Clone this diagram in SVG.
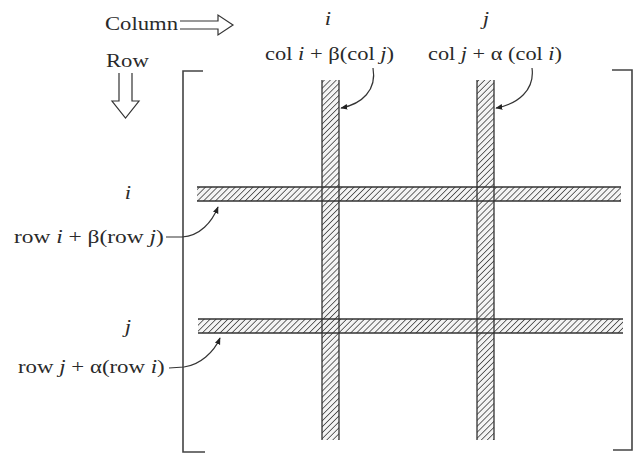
<svg xmlns="http://www.w3.org/2000/svg" width="637" height="454" viewBox="0 0 637 454">
<style>
  text { font-family: "Liberation Serif", "Times New Roman", serif; font-size: 18px; fill: #2a2a2a; }
  .it { font-style: italic; }
  .strip { fill: url(#hatch); stroke: none; }
  .edge { fill: none; stroke: #333; stroke-width: 1.3; }
  .br { fill: none; stroke: #444; stroke-width: 1.6; }
  .conn { fill: none; stroke: #333; stroke-width: 1.2; }
  .hollow { fill: #fff; stroke: #333; stroke-width: 1.2; stroke-linejoin: miter; }
</style>
<defs>
  <pattern id="hatch" patternUnits="userSpaceOnUse" width="4.2" height="4.2" patternTransform="rotate(45)">
    <rect width="4.2" height="4.2" fill="#f4f4f4"/>
    <line x1="0" y1="0" x2="0" y2="4.2" stroke="#444" stroke-width="1.6"/>
  </pattern>
  <marker id="ah" viewBox="0 0 10 10" refX="9" refY="5" markerWidth="7" markerHeight="7" orient="auto" markerUnits="userSpaceOnUse">
    <path d="M0,1 L10,5 L0,9 Z" fill="#222"/>
  </marker>
</defs>
<rect width="637" height="454" fill="#fff"/>

<g id="legend">
  <text transform="translate(105,30) scale(1.26,1)">Column</text>
  <path class="hollow" d="M180 21 L218 21 L218 15 L233 25 L218 35 L218 29 L180 29"/>
  <text transform="translate(106,67) scale(1.26,1)">Row</text>
  <path class="hollow" d="M119 73 L119 101 L112 101 L125.5 118 L139 101 L132 101 L132 73"/>
</g>

<g id="matrix-bracket">
  <path class="br" d="M203 71 L183 71 L183 452 L205 452"/>
  <path class="br" d="M612 70 L632 70 L632 450 L613 450"/>
</g>

<g id="column-i">
  <rect class="strip" x="322" y="80" width="17" height="360"/>
  <text class="it" text-anchor="middle" transform="translate(328,25) scale(1.26,1)">i</text>
  <text transform="translate(265,60) scale(1.25,1)">col <tspan class="it">i</tspan> + β(col <tspan class="it">j</tspan>)</text>
</g>

<g id="column-j">
  <rect class="strip" x="477" y="80" width="17" height="360"/>
  <text class="it" text-anchor="middle" transform="translate(486,25) scale(1.26,1)">j</text>
  <text transform="translate(428,60) scale(1.24,1)">col <tspan class="it">j</tspan> + α (col <tspan class="it">i</tspan>)</text>
</g>

<g id="row-i">
  <rect class="strip" x="197" y="187" width="424" height="14"/>
  <text class="it" text-anchor="middle" transform="translate(128,199) scale(1.26,1)">i</text>
  <text transform="translate(14,243) scale(1.3,1)">row <tspan class="it">i</tspan> + β(row <tspan class="it">j</tspan>)</text>
</g>

<g id="row-j">
  <rect class="strip" x="198" y="319" width="425" height="14"/>
  <text class="it" text-anchor="middle" transform="translate(128,333) scale(1.26,1)">j</text>
  <text transform="translate(18,373) scale(1.27,1)">row <tspan class="it">j</tspan> + α(row <tspan class="it">i</tspan>)</text>
</g>

<g id="strip-edges">
  <path class="edge" d="M322 80 V440 M339 80 V440 M477 80 V440 M494 80 V440"/>
  <path class="edge" d="M197 187 H621 M197 201 H621 M198 319 H623 M198 333 H623"/>
</g>

<g id="connectors">
  <path class="conn" marker-end="url(#ah)" d="M166 237 L182 237 C200 236 212 222 218 207"/>
  <path class="conn" marker-end="url(#ah)" d="M169 368 L184 367 C200 365 214 352 220 338"/>
  <path class="conn" marker-end="url(#ah)" d="M373 68 C377 90 362 104 341 108"/>
  <path class="conn" marker-end="url(#ah)" d="M532 68 C535 90 518 104 496 108"/>
</g>
</svg>
